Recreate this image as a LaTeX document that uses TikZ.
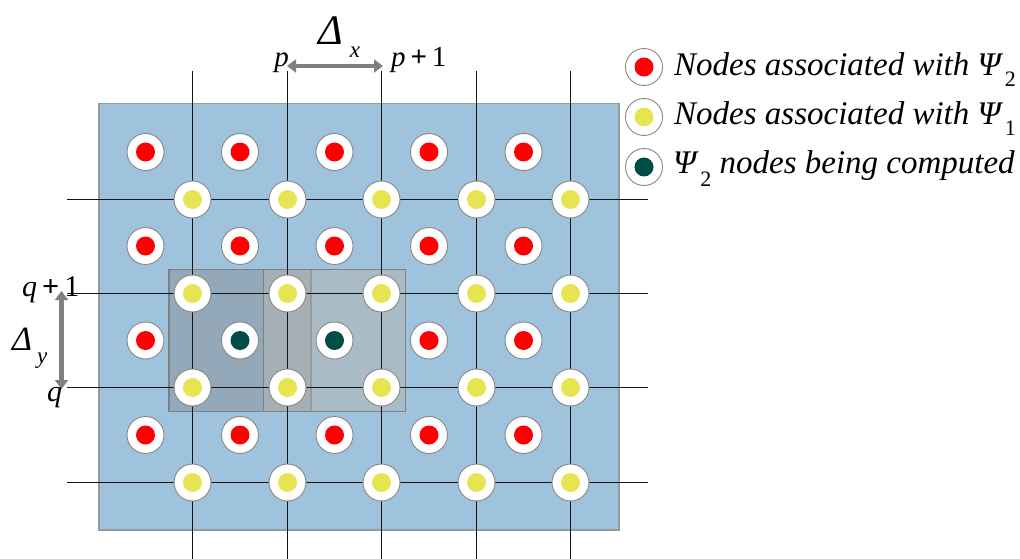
\documentclass[tikz,border=0pt]{standalone}
\usepackage{fontspec}
\setmainfont{Liberation Serif}
\usetikzlibrary{arrows.meta}
\definecolor{bgblue}{RGB}{159,195,221}
\definecolor{bgedge}{RGB}{150,155,160}
\definecolor{ringgray}{RGB}{135,135,135}
\definecolor{psired}{RGB}{255,0,0}
\definecolor{psiyellow}{RGB}{230,228,80}
\definecolor{psidark}{RGB}{0,76,70}
\definecolor{arrgray}{RGB}{128,128,128}
\definecolor{gridline}{RGB}{20,20,20}
\tikzset{
  gnode/.style={circle, fill=white, draw=ringgray, line width=0.9pt, minimum size=37pt, inner sep=0pt,
    path picture={\fill[#1] (path picture bounding box.center) circle[radius=9.5pt];}},
  gridln/.style={draw=gridline, line width=1pt},
  shadeA/.style={fill=black!50, fill opacity=0.38, draw=arrgray, line width=1.1pt},
  shadeB/.style={fill=black!29, fill opacity=0.5, draw=arrgray, line width=1.1pt},
  dimarrow/.style={draw=arrgray, line width=4.5pt, {Triangle[length=9pt,width=13pt]}-{Triangle[length=9pt,width=13pt]}, shorten <=-1pt, shorten >=-1pt},
  lbl/.style={inner sep=0pt, anchor=base west},
  legtext/.style={inner sep=0pt, anchor=base west, font=\fontsize{33}{33}\selectfont\itshape}
}
\newcommand{\lowsub}[2]{\raisebox{-#1}{\fontsize{22}{22}\selectfont\upshape #2}}
\begin{document}
\begin{tikzpicture}[x=1pt,y=-1pt]
\useasboundingbox (0,0) rectangle (1020,559);
% background plate
\node[draw=bgedge, fill=bgblue, line width=1.5pt, minimum width=520pt, minimum height=426pt, inner sep=0pt, anchor=north west] (plate) at (98,103) {};
% shaded windows
\node[shadeA, minimum width=142pt, minimum height=142pt, inner sep=0pt] (winA) at (240,340.5) {};
\node[shadeB, minimum width=142pt, minimum height=142pt, inner sep=0pt] (winB) at (334.5,340.5) {};
% grid lines
\foreach \i/\x in {1/192.5,2/287.5,3/381.5,4/476.5,5/570.5}{
  \coordinate (vt\i) at (\x,71);
  \coordinate (vb\i) at (\x,559);
  \draw[gridln] (vt\i) -- (vb\i);
}
\foreach \j/\y in {1/199.5,2/293.5,3/387.5,4/482.5}{
  \coordinate (hl\j) at (67,\y);
  \coordinate (hr\j) at (648,\y);
  \draw[gridln] (hl\j) -- (hr\j);
}
% yellow nodes
\foreach \i/\x in {1/192.5,2/287.5,3/381.5,4/476.5,5/570.5}{
  \foreach \j/\y in {1/199.5,2/293.5,3/387.5,4/482.5}{
    \node[gnode=psiyellow] (y\i\j) at (\x,\y) {};
  }
}
% red nodes
\foreach \i/\x in {1/145.5,2/240,3/334.5,4/429,5/523.5}{
  \foreach \j/\y in {1/152,2/246,4/435}{
    \node[gnode=psired] (r\i\j) at (\x,\y) {};
  }
}
\node[gnode=psired] (r13) at (145.5,340.5) {};
\node[gnode=psidark] (r23) at (240,340.5) {};
\node[gnode=psidark] (r33) at (334.5,340.5) {};
\node[gnode=psired] (r43) at (429,340.5) {};
\node[gnode=psired] (r53) at (523.5,340.5) {};
% dimension arrows
\coordinate (ax1) at (288,66);
\coordinate (ax2) at (382,66);
\draw[dimarrow] (ax1) -- (ax2);
\coordinate (ay1) at (61.5,292);
\coordinate (ay2) at (61.5,388);
\draw[dimarrow] (ay1) -- (ay2);
% labels
\node[inner sep=0pt, anchor=base east, font=\fontsize{29}{29}\selectfont] (lp) at (289,67) {\textit{p}};
\node[lbl, font=\fontsize{29}{29}\selectfont] (lp1) at (391,67) {\textit{p}\,\textbf{+}\,1};
\node[lbl, font=\fontsize{42}{42}\selectfont] (ldx) at (318,45) {\textit{Δ}\hspace{7pt}\raisebox{-13pt}{\fontsize{23}{23}\selectfont\textit{x}}};
\node[lbl, font=\fontsize{30}{30}\selectfont] (lq1) at (22,296) {\textit{q}\,\textbf{+}\,1};
\node[lbl, font=\fontsize{30}{30}\selectfont] (lq) at (47,401) {\textit{q}};
\node[lbl, font=\fontsize{34}{34}\selectfont] (ldy) at (12,350) {\textit{Δ}\hspace{5pt}\raisebox{-13pt}{\fontsize{23}{23}\selectfont\textit{y}}};
% legend
\node[gnode=psired] (k1) at (644,67) {};
\node[gnode=psiyellow] (k2) at (644,117) {};
\node[gnode=psidark] (k3) at (644,167) {};
\node[legtext] (t1) at (674,75.7) {Nodes associated with Ψ\hspace{4pt}\lowsub{11pt}{2}};
\node[legtext] (t2) at (674,125) {Nodes associated with Ψ\hspace{4pt}\lowsub{11pt}{1}};
\node[legtext] (t3) at (673,173.3) {Ψ\hspace{4pt}\lowsub{13pt}{2} nodes being computed};
\end{tikzpicture}
\end{document}
